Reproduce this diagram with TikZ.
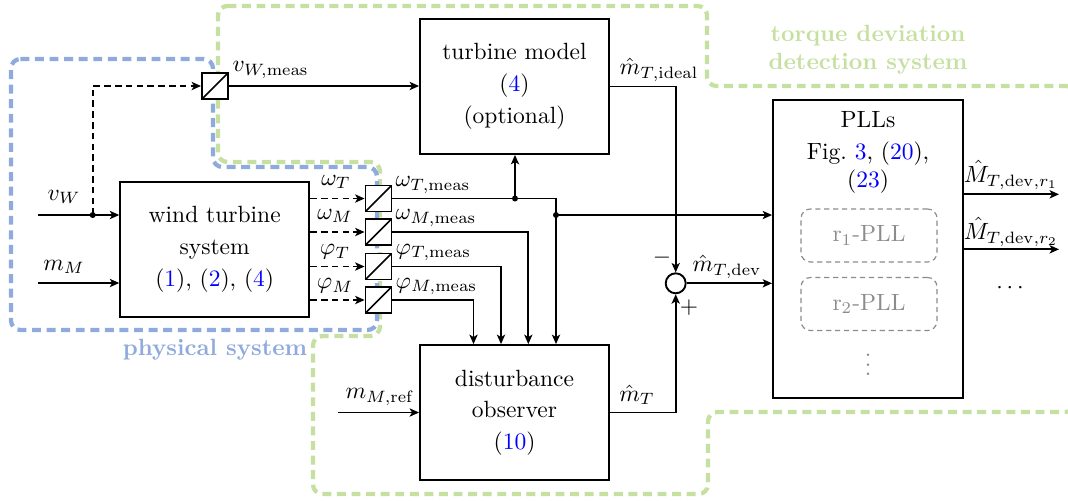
\documentclass[tikz,border=0pt]{standalone}
\usetikzlibrary{arrows.meta,calc}
\definecolor{physblue}{RGB}{143,170,220}
\definecolor{tdgreen}{RGB}{197,224,160}
\definecolor{pllgray}{RGB}{140,140,140}
\def\pxu{0.4255pt}
\begin{document}
\begin{tikzpicture}[x=0.4255pt,y=-0.4255pt,
  >={Stealth[length=4pt,width=3.5pt,inset=1pt]},
  conn/.style={line width=0.7pt},
  dsig/.style={line width=0.7pt,dash pattern=on 2.8pt off 1.8pt},
  block/.style={draw,line width=0.8pt,fill=white,align=center,inner sep=0pt,minimum width=189*\pxu,minimum height=135*\pxu},
  sensor/.style={draw,line width=0.8pt,fill=white,minimum size=26*\pxu,inner sep=0pt,
    path picture={\draw[line width=0.7pt] (path picture bounding box.south west) -- (path picture bounding box.north east);}},
  dotnode/.style={circle,fill,inner sep=0pt,minimum size=6*\pxu},
  lbl/.style={inner sep=0.5pt},
  boundary/.style={line width=1.8pt,dash pattern=on 3.8pt off 2.4pt,rounded corners=4pt},
  pllsub/.style={draw=pllgray,text=pllgray,dash pattern=on 2.2pt off 1.6pt,rounded corners=4pt,minimum width=136*\pxu,minimum height=53*\pxu,line width=0.5pt}]
\useasboundingbox (0,0) rectangle (1068,500);
% boundaries
\draw[boundary,tdgreen] (218,6) -- (707,6) -- (707,86) -- (1075,86) -- (1075,412) -- (708,412) -- (708,494) -- (313,494) -- (313,336) -- (380,336) -- (380,162) -- (218,162) -- cycle;
\draw[boundary,physblue] (11,59) -- (213,59) -- (213,167) -- (377,167) -- (377,330) -- (11,330) -- cycle;
% blocks
\node[block] (wts) at (214.7,249.2) {wind turbine\\[1.5pt] system\\[1.5pt] (\textcolor{blue}{1}), (\textcolor{blue}{2}), (\textcolor{blue}{4})};
\node[block] (tm) at (514.5,86.5) {turbine model\\[1.5pt] (\textcolor{blue}{4})\\[1.5pt] (optional)};
\node[block] (do) at (514.5,412.5) {disturbance\\[1.5pt] observer\\[1.5pt] (\textcolor{blue}{10})};
\node[block,minimum width=190*\pxu,minimum height=298*\pxu] (pll) at (868,249) {};
\node[lbl] (plltitle) at (868,120) {PLLs};
\node[lbl,align=center] (pllref) at (868,168) {Fig.~\textcolor{blue}{3}, (\textcolor{blue}{20}),\\(\textcolor{blue}{23})};
\node[pllsub] (r1) at (869,235.5) {r$_1$-PLL};
\node[pllsub] (r2) at (869,304) {r$_2$-PLL};
\node[lbl,text=pllgray] (vd) at (868,358) {$\vdots$};
% sensors
\node[sensor] (sv) at (215,86) {};
\node[sensor] (s1) at (378.5,198.5) {};
\node[sensor] (s2) at (378.5,232) {};
\node[sensor] (s3) at (378.5,266.5) {};
\node[sensor] (s4) at (378.5,300) {};
\node[circle,draw,line width=0.8pt,minimum size=20*\pxu,inner sep=0pt] (sum) at (675.7,283.3) {};
% coordinates
\coordinate (vWin) at (38,215);
\coordinate (mMin) at (38,283);
\node[dotnode] (vWdot) at (92.7,215) {};
\node[dotnode] (d1) at (515,198.5) {};
\node[dotnode] (d2) at (556,215) {};
\coordinate (c1) at (556,0);
\coordinate (c2) at (528.3,0);
\coordinate (c3) at (501,0);
\coordinate (c4) at (473.5,0);
\coordinate (mref) at (338,412.5);
\coordinate (o1) at (1059,194.3);
\coordinate (o2) at (1059,249.3);
% connectors
\draw[conn,->] (vWin) -- (vWin -| wts.west);
\draw[dsig,->] (vWdot.center) |- (sv.west);
\draw[conn,->] (mMin) -- (mMin -| wts.west);
\draw[conn,->] (sv.east) -- (sv.east -| tm.west);
\draw[dsig,->] (wts.east |- s1.west) -- (s1.west);
\draw[dsig,->] (wts.east |- s2.west) -- (s2.west);
\draw[dsig,->] (wts.east |- s3.west) -- (s3.west);
\draw[dsig,->] (wts.east |- s4.west) -- (s4.west);
\draw[conn,->] (s1.east) -| (c1 |- do.north);
\draw[conn,->] (s2.east) -| (c2 |- do.north);
\draw[conn,->] (s3.east) -| (c3 |- do.north);
\draw[conn,->] (s4.east) -| (c4 |- do.north);
\draw[conn,->] (d1.center) -- (d1 |- tm.south);
\draw[conn,->] (d2.center) -- (d2 -| pll.west);
\draw[conn,->] (tm.east) -| (sum.north);
\draw[conn,->] (do.east) -| (sum.south);
\draw[conn,->] (sum.east) -- (sum.east -| pll.west);
\draw[conn,->] (mref) -- (do.west);
\draw[conn,->] (o1 -| pll.east) -- (o1);
\draw[conn,->] (o2 -| pll.east) -- (o2);
% labels
\node[lbl] (lvW) at (64,197) {$v_W$};
\node[lbl] (lmM) at (64,267) {$m_M$};
\node[lbl,anchor=west] (lvWm) at (231,70) {$v_{W,\mathrm{meas}}$};
\node[lbl] (lwT) at (336,182) {$\omega_T$};
\node[lbl] (lwM) at (335,216) {$\omega_M$};
\node[lbl] (lpT) at (335,252) {$\varphi_T$};
\node[lbl] (lpM) at (335,286) {$\varphi_M$};
\node[lbl,anchor=west] (lwTm) at (394,185) {$\omega_{T,\mathrm{meas}}$};
\node[lbl,anchor=west] (lwMm) at (394,218) {$\omega_{M,\mathrm{meas}}$};
\node[lbl,anchor=west] (lpTm) at (394,252.5) {$\varphi_{T,\mathrm{meas}}$};
\node[lbl,anchor=west] (lpMm) at (394,286.5) {$\varphi_{M,\mathrm{meas}}$};
\node[lbl] (lmTi) at (659,70) {$\hat{m}_{T,\mathrm{ideal}}$};
\node[lbl] (lmTd) at (727,267) {$\hat{m}_{T,\mathrm{dev}}$};
\node[lbl] (lmT) at (637,395) {$\hat{m}_T$};
\node[lbl] (lmref) at (380,397) {$m_{M,\mathrm{ref}}$};
\node[lbl] (lminus) at (662,258) {$-$};
\node[lbl] (lplus) at (689,308) {$+$};
\node[lbl] (lo1) at (1011,175) {$\hat{M}_{T,\mathrm{dev},r_1}$};
\node[lbl] (lo2) at (1011,232) {$\hat{M}_{T,\mathrm{dev},r_2}$};
\node[lbl] (ldots) at (1010,288) {$\cdots$};
\node[lbl,text=physblue,font=\bfseries] (lphys) at (215,350) {physical system};
\node[lbl,text=tdgreen,font=\bfseries,align=center] (ltd) at (868,50) {torque deviation\\detection system};
\end{tikzpicture}
\end{document}
